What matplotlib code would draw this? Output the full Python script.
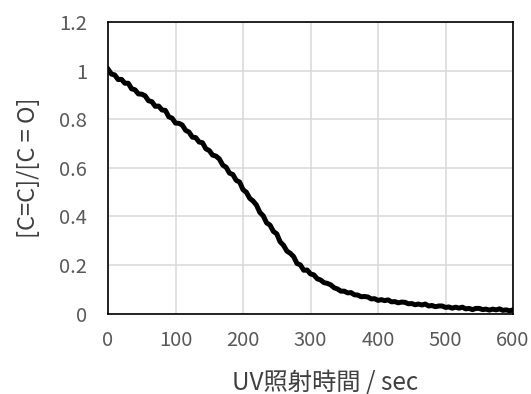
"""UV照射による C=C / C=O 比の減衰曲線"""

import matplotlib

matplotlib.use("Agg")
import matplotlib.pyplot as plt

plt.rcParams["font.family"] = ["Noto Sans CJK JP", "DejaVu Sans"]

# time axis, sec (every 5 s)
time_sec = list(range(0, 605, 5))

ratio = [
    1.006, 0.986, 0.982, 0.963, 0.964, 0.948, 0.948, 0.925, 0.921, 0.904,
    0.903, 0.896, 0.876, 0.872, 0.853, 0.854, 0.838, 0.836, 0.810, 0.804,
    0.784, 0.783, 0.776, 0.754, 0.747, 0.726, 0.724, 0.706, 0.703, 0.678,
    0.671, 0.652, 0.648, 0.636, 0.611, 0.602, 0.578, 0.572, 0.548, 0.541,
    0.510, 0.499, 0.474, 0.463, 0.446, 0.416, 0.402, 0.373, 0.364, 0.338,
    0.328, 0.295, 0.281, 0.257, 0.248, 0.234, 0.206, 0.200, 0.178, 0.179,
    0.163, 0.159, 0.143, 0.138, 0.127, 0.124, 0.118, 0.106, 0.101, 0.092,
    0.092, 0.085, 0.086, 0.077, 0.076, 0.069, 0.070, 0.068, 0.060, 0.061,
    0.054, 0.057, 0.053, 0.056, 0.048, 0.049, 0.044, 0.047, 0.046, 0.040,
    0.041, 0.036, 0.039, 0.035, 0.039, 0.031, 0.033, 0.028, 0.031, 0.031,
    0.025, 0.027, 0.022, 0.026, 0.022, 0.026, 0.019, 0.021, 0.016, 0.021,
    0.021, 0.016, 0.018, 0.014, 0.018, 0.015, 0.019, 0.013, 0.015, 0.011,
    0.015,
]

x_ticks = [0, 100, 200, 300, 400, 500, 600]
y_ticks = [0, 0.2, 0.4, 0.6, 0.8, 1.0, 1.2]
y_tick_labels = ["0", "0.2", "0.4", "0.6", "0.8", "1", "1.2"]

fig = plt.figure(figsize=(5.31, 3.94), dpi=100)
ax = fig.add_axes([0.2034, 0.2043, 0.7627, 0.7398])

ax.plot(time_sec, ratio, color="black", lw=3.6)

ax.set_xlim(0, 600)
ax.set_ylim(0, 1.2)
ax.set_xticks(x_ticks)
ax.set_yticks(y_ticks)
ax.set_yticklabels(y_tick_labels)
ax.grid(True, color="#d9d9d9", lw=1.1)
ax.set_axisbelow(True)
ax.tick_params(length=0, labelsize=14.5, labelcolor="#595959")
ax.tick_params(axis="y", pad=15)
ax.tick_params(axis="x", pad=12)
for sp in ax.spines.values():
    sp.set_color("black")
    sp.set_linewidth(1.2)

ax.set_xlabel("UV照射時間 / sec", fontsize=17.5, color="#404040")
ax.xaxis.set_label_coords(0.536, -0.235, transform=ax.transAxes)
ax.xaxis.label.set_va("center")
ax.set_ylabel("[C=C]/[C = O]", fontsize=17, color="#404040", labelpad=14)

fig.savefig("out.png", dpi=100)
plt.close(fig)
